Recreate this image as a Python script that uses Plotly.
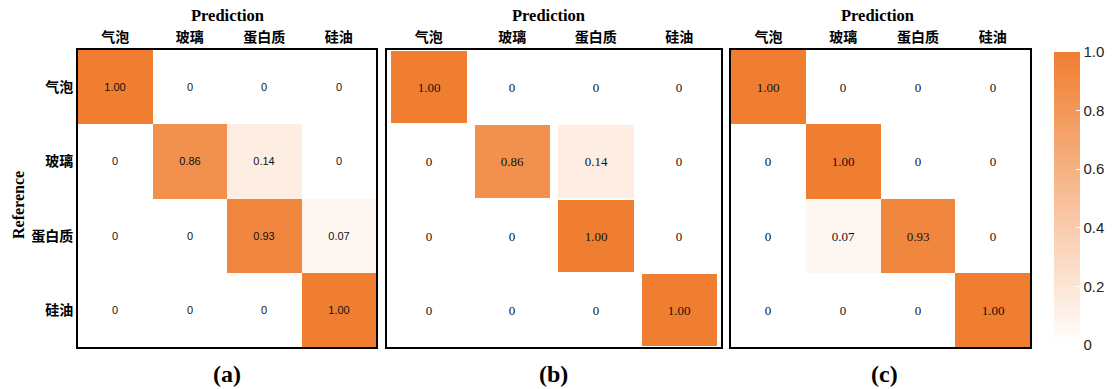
import plotly.graph_objects as go

categories = ["气泡", "玻璃", "蛋白质", "硅油"]
panel_labels = ["(a)", "(b)", "(c)"]

values_a = [
    [1.00, 0, 0, 0],
    [0, 0.86, 0.14, 0],
    [0, 0, 0.93, 0.07],
    [0, 0, 0, 1.00],
]
values_b = [
    [1.00, 0, 0, 0],
    [0, 0.86, 0.14, 0],
    [0, 0, 1.00, 0],
    [0, 0, 0, 1.00],
]
values_c = [
    [1.00, 0, 0, 0],
    [0, 1.00, 0, 0],
    [0, 0.07, 0.93, 0],
    [0, 0, 0, 1.00],
]
colorbar_ticks = [0, 0.2, 0.4, 0.6, 0.8, 1.0]
colorbar_ticktext = ["0", "0.2", "0.4", "0.6", "0.8", "1.0"]

W, H = 1113, 389


def px_x(p):
    return p / W


def px_y(p):
    return 1 - p / H


def fmt(m):
    return [[(f"{v:.2f}" if v else "0") for v in row] for row in m]


panels = [
    dict(z=values_a, x0=78, x1=376, font=dict(family="Liberation Sans", size=11, color="#111"), xgap=0, ygap=0),
    dict(z=values_b, x0=387, x1=721, font=dict(family="Liberation Serif", size=13, color="#111"), xgap=8, ygap=2),
    dict(z=values_c, x0=731, x1=1030, font=dict(family="Liberation Serif", size=13, color="#111"), xgap=0, ygap=0),
]

fig = go.Figure()
y_top, y_bot = 50, 347
for i, p in enumerate(panels):
    n = "" if i == 0 else str(i + 1)
    fig.add_trace(go.Heatmap(
        z=p["z"], x=categories, y=categories,
        text=fmt(p["z"]), texttemplate="%{text}", textfont=p["font"],
        coloraxis="coloraxis", xaxis="x" + n, yaxis="y" + n,
        xgap=p["xgap"], ygap=p["ygap"], hoverinfo="skip",
    ))
    fig.layout["xaxis" + n] = dict(
        domain=[px_x(p["x0"]), px_x(p["x1"])], anchor="y" + n, side="top",
        showline=True, mirror=True, linecolor="black", linewidth=2,
        showgrid=False, zeroline=False, ticks="", ticklen=0,
        tickfont=dict(family="Noto Sans CJK SC", size=14, color="black", weight="bold"),
    )
    fig.layout["yaxis" + n] = dict(
        domain=[px_y(y_bot), px_y(y_top)], anchor="x" + n, autorange="reversed",
        showline=True, mirror=True, linecolor="black", linewidth=2,
        showgrid=False, zeroline=False, ticks="", ticklen=0,
        showticklabels=(i == 0),
        tickfont=dict(family="Noto Sans CJK SC", size=14, color="black", weight="bold"),
    )

fig.update_layout(
    width=W, height=H,
    margin=dict(l=0, r=0, t=0, b=0),
    paper_bgcolor="white", plot_bgcolor="white",
    coloraxis=dict(
        cmin=0, cmax=1,
        colorscale=[[0, "#FFFFFF"], [1, "#F07E30"]],
        colorbar=dict(
            x=px_x(1054), xanchor="left", y=px_y(198.5), yanchor="middle",
            len=(345 - 52) / H, lenmode="fraction", thickness=26,
            xpad=0, ypad=0,
            outlinewidth=0, tickvals=colorbar_ticks, ticktext=colorbar_ticktext,
            ticks="inside", tickcolor="white", ticklen=4,
            tickfont=dict(family="Liberation Sans", size=15, color="#222"),
        ),
    ),
)

pred_x = [227, 548, 877]
lab_x = [227, 553, 884]
for i in range(3):
    fig.add_annotation(text="<b>Prediction</b>", x=px_x(pred_x[i]), y=px_y(15), xref="paper", yref="paper",
                       xanchor="center", yanchor="middle",
                       showarrow=False, font=dict(family="Liberation Serif", size=16.5, color="black"))
    fig.add_annotation(text="<b>" + panel_labels[i] + "</b>", x=px_x(lab_x[i]), y=px_y(374), xref="paper", yref="paper",
                       xanchor="center", yanchor="middle",
                       showarrow=False, font=dict(family="Liberation Serif", size=24, color="black"))
fig.add_annotation(text="<b>Reference</b>", x=px_x(18), y=px_y(205), xref="paper", yref="paper", textangle=-90,
                   xanchor="center", yanchor="middle",
                   showarrow=False, font=dict(family="Liberation Serif", size=16, color="black"))

fig.write_html("out.html", config={"displayModeBar": False},
               post_script="document.body.style.margin='0';document.body.style.overflow='hidden';")
